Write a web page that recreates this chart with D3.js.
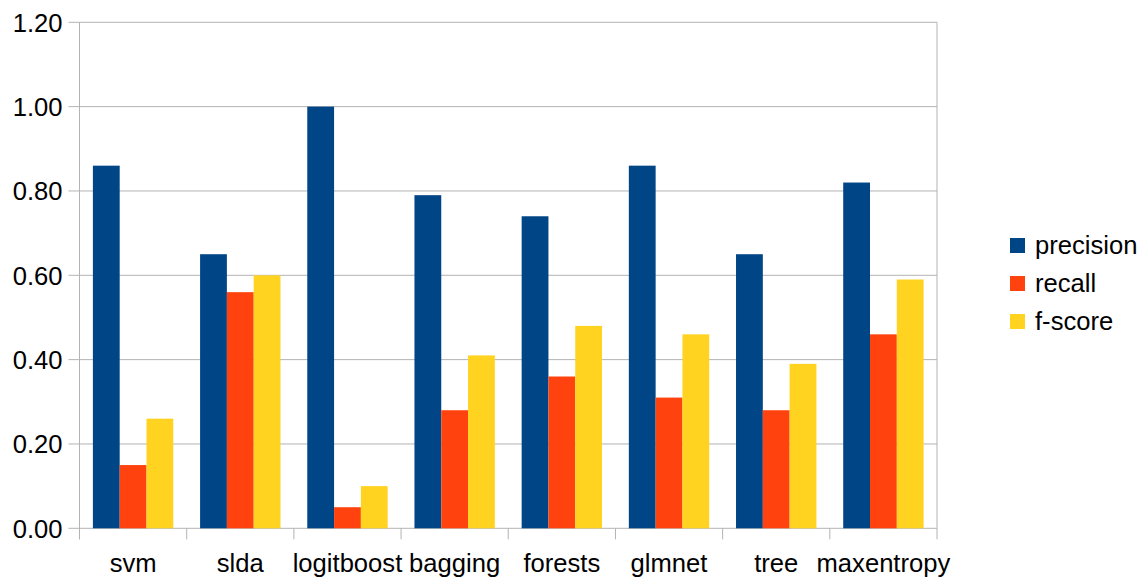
<!DOCTYPE html>
<html>
<head>
<meta charset="utf-8">
<script src="https://cdn.jsdelivr.net/npm/d3@7"></script>
<style>
  html, body { margin: 0; padding: 0; background: #fff; }
  svg { display: block; font-family: "Liberation Sans", Arial, sans-serif; }
</style>
</head>
<body>
<svg id="chart" width="1143" height="578"></svg>
<script>
// Classifier names along the x axis
const categories = ["svm", "slda", "logitboost", "bagging", "forests", "glmnet", "tree", "maxentropy"];

// Scores per classifier
const precision = [0.86, 0.65, 1.00, 0.79, 0.74, 0.86, 0.65, 0.82];
const recall    = [0.15, 0.56, 0.05, 0.28, 0.36, 0.31, 0.28, 0.46];
const fscore    = [0.26, 0.60, 0.10, 0.41, 0.48, 0.46, 0.39, 0.59];

const seriesNames = ["precision", "recall", "f-score"];
const seriesColors = ["#004586", "#ff420e", "#ffd320"];
const yTicks = [0, 0.2, 0.4, 0.6, 0.8, 1.0, 1.2];

const seriesValues = [precision, recall, fscore];

const margin = { left: 79.5, right: 1143 - 937, top: 22.3, bottom: 578 - 528.3 };
const width = 1143, height = 578;
const fontSize = 25.6;

const svg = d3.select("#chart");

const x = d3.scaleBand()
  .domain(categories)
  .range([margin.left, width - margin.right])
  .paddingInner(0.25)
  .paddingOuter(0.125);

const xInner = d3.scaleBand()
  .domain(seriesNames)
  .range([0, x.bandwidth()]);

const y = d3.scaleLinear()
  .domain([0, 1.2])
  .range([height - margin.bottom, margin.top]);

const gridColor = "#b3b3b3";

// Horizontal gridlines
svg.append("g")
  .selectAll("line")
  .data(yTicks)
  .join("line")
  .attr("x1", margin.left - 11)
  .attr("x2", width - margin.right)
  .attr("y1", d => y(d))
  .attr("y2", d => y(d))
  .attr("stroke", gridColor)
  .attr("stroke-width", 1);

// Right border of the plot
svg.append("line")
  .attr("x1", width - margin.right).attr("x2", width - margin.right)
  .attr("y1", y(1.2)).attr("y2", y(0) + 11)
  .attr("stroke", gridColor);

// Left axis line
svg.append("line")
  .attr("x1", margin.left).attr("x2", margin.left)
  .attr("y1", y(1.2)).attr("y2", y(0) + 11)
  .attr("stroke", gridColor);

// Category separator ticks below the baseline
const boundaries = categories.map(c => x(c) - x.step() * x.paddingInner() / 2);
svg.append("g")
  .selectAll("line")
  .data(boundaries)
  .join("line")
  .attr("x1", d => d).attr("x2", d => d)
  .attr("y1", y(0)).attr("y2", y(0) + 11)
  .attr("stroke", gridColor);

// Y tick labels
svg.append("g")
  .selectAll("text")
  .data(yTicks)
  .join("text")
  .attr("x", margin.left - 17)
  .attr("y", d => y(d))
  .attr("dy", "0.36em")
  .attr("text-anchor", "end")
  .attr("font-size", fontSize)
  .attr("fill", "#000")
  .text(d => d3.format(".2f")(d));

// Bars
const groups = svg.append("g")
  .selectAll("g")
  .data(categories)
  .join("g")
  .attr("transform", d => `translate(${x(d)},0)`);

groups.selectAll("rect")
  .data((c, i) => seriesNames.map((s, k) => ({ s, k, v: seriesValues[k][i] })))
  .join("rect")
  .attr("x", d => xInner(d.s))
  .attr("width", xInner.bandwidth())
  .attr("y", d => y(d.v))
  .attr("height", d => y(0) - y(d.v))
  .attr("fill", d => seriesColors[d.k]);

// Category labels
svg.append("g")
  .selectAll("text")
  .data(categories)
  .join("text")
  .attr("x", d => x(d) + x.bandwidth() / 2)
  .attr("y", 572)
  .attr("text-anchor", "middle")
  .attr("font-size", fontSize)
  .attr("fill", "#000")
  .text(d => d);

// Legend
const legend = svg.append("g")
  .selectAll("g")
  .data(seriesNames)
  .join("g")
  .attr("transform", (d, i) => `translate(1010,${245.5 + i * 38})`);

legend.append("rect")
  .attr("x", 0).attr("y", -7.5)
  .attr("width", 15).attr("height", 15)
  .attr("fill", (d, i) => seriesColors[i]);

legend.append("text")
  .attr("x", 25)
  .attr("y", 0)
  .attr("dy", "0.33em")
  .attr("font-size", fontSize)
  .attr("fill", "#000")
  .text(d => d);
</script>
</body>
</html>
